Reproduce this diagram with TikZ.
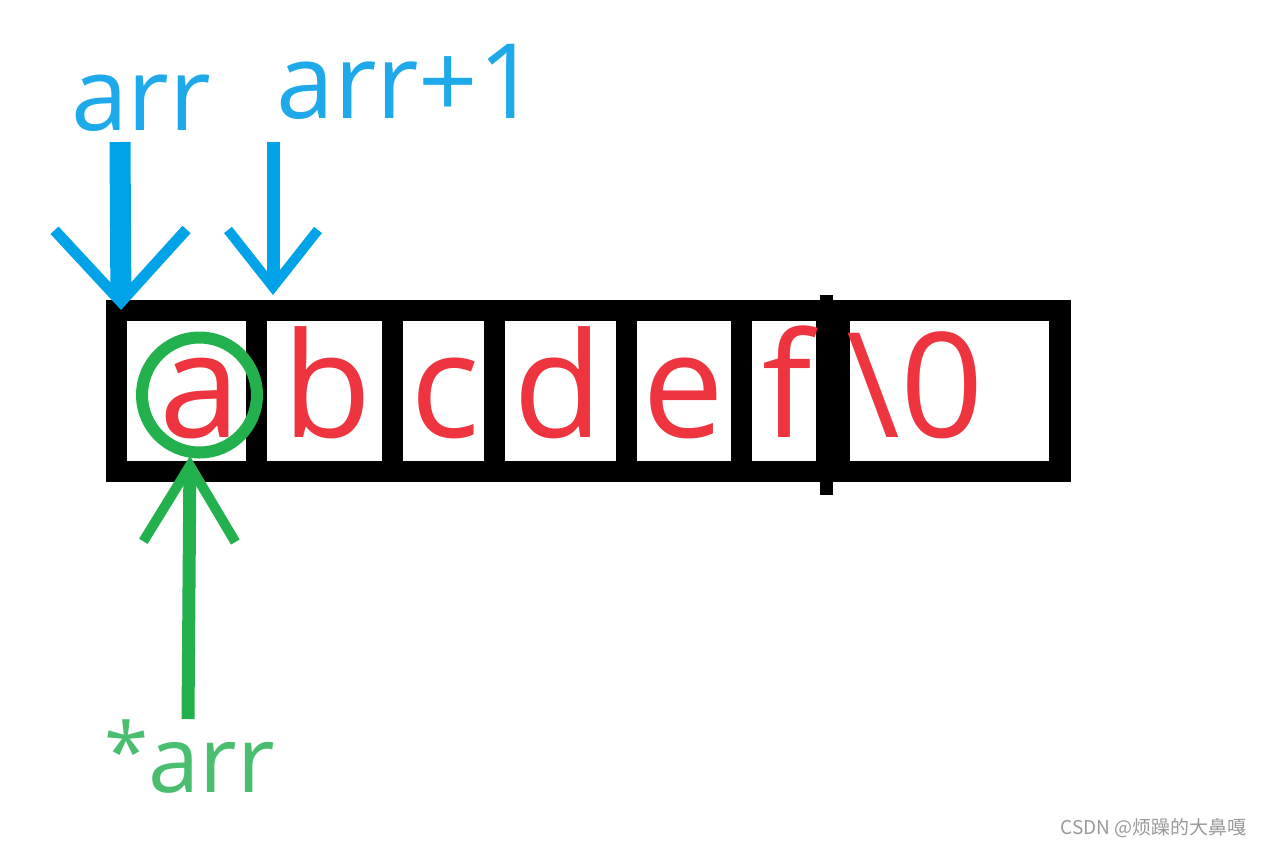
\documentclass[tikz,border=0pt]{standalone}
\usepackage{fontspec}
\setmainfont{Open Sans}
\newfontfamily\cjkfont{Noto Sans CJK SC}
\usetikzlibrary{arrows.meta}
\definecolor{ptrblue}{RGB}{0,162,232}
\definecolor{lblblue}{RGB}{30,170,234}
\definecolor{ptrgreen}{RGB}{34,177,76}
\definecolor{lblgreen}{RGB}{72,190,110}
\definecolor{chred}{RGB}{238,52,62}
\tikzset{
	cell/.style={fill=white, inner sep=0pt, minimum height=140pt},
	ch/.style={text=chred, inner sep=0pt, anchor=base, font=\fontsize{146}{150}\selectfont},
	lbl/.style={inner sep=0pt, anchor=base west, font=\fontsize{#1}{#1}\selectfont},
}

\begin{document}
\begin{tikzpicture}[x=1pt, y=-1pt]
	\useasboundingbox (0,0) rectangle (1262,847);
	% the string in memory
	\node [fill=black, inner sep=0pt, minimum width=965pt, minimum height=182pt] (str) at (588.5,391) {};
	\node [fill=black, inner sep=0pt, minimum width=13pt, minimum height=200pt] (end) at (826.5,395) {};
	\node [cell, minimum width=119pt] (cell1) at (186.5,391) {};
	\node [cell, minimum width=115pt] (cell2) at (324.5,391) {};
	\node [cell, minimum width=81pt] (cell3) at (443.5,391) {};
	\node [cell, minimum width=111pt] (cell4) at (560.5,391) {};
	\node [cell, minimum width=94pt] (cell5) at (684,391) {};
	\node [cell, minimum width=64pt] (cell6) at (784,391) {};
	\node [cell, minimum width=199pt] (cell7) at (949.5,391) {};
	\node [ch] (a) at (200,437) {a}; \node [ch] (b) at (327,437) {b}; \node [ch] (c) at (445,437) {c};
	\node [ch] (d) at (558,437) {d}; \node [ch] (e) at (683,437) {e}; \node [ch] (f) at (787,437) {f};
	\node [ch] (nul) at (915,437) {\textbackslash 0};
	% pointers
	\node [lbl=102, text=lblblue] (arr) at (71,130) {arr};
	\node [lbl=104, text=lblblue] (arr1) at (276,118) {arr+1};
	\node [lbl=92, text=lblgreen] (deref) at (104,792) {\raisebox{12pt}{\fontsize{80}{80}\selectfont *}arr};
	\coordinate (arrtail) at (120,142); \coordinate (arrtip) at (121,310);
	\coordinate (arr1tail) at (273,142); \coordinate (arr1tip) at (273,295);
	\coordinate (dereftail) at (188,719); \coordinate (dereftip) at (190,456);
	\node [draw=ptrgreen, line width=12pt, circle, minimum size=115pt, inner sep=0pt] (ring) at (199.5,395) {};
	\draw [ptrblue, line width=21pt, -{Straight Barb[length=72pt, width=132pt, line width=11pt]}] (arrtail) -- (arrtip);
	\draw [ptrblue, line width=13pt, -{Straight Barb[length=57pt, width=90pt, line width=10pt]}] (arr1tail) -- (arr1tip);
	\draw [ptrgreen, line width=13pt, -{Straight Barb[length=76pt, width=92pt, line width=10pt]}] (dereftail) -- (dereftip);
	\node [anchor=base east, inner sep=0pt, text=black!40, font=\cjkfont\fontsize{19}{19}\selectfont] (mark) at (1247,834) {CSDN @烦躁的大鼻嘎};
\end{tikzpicture}
\end{document}
